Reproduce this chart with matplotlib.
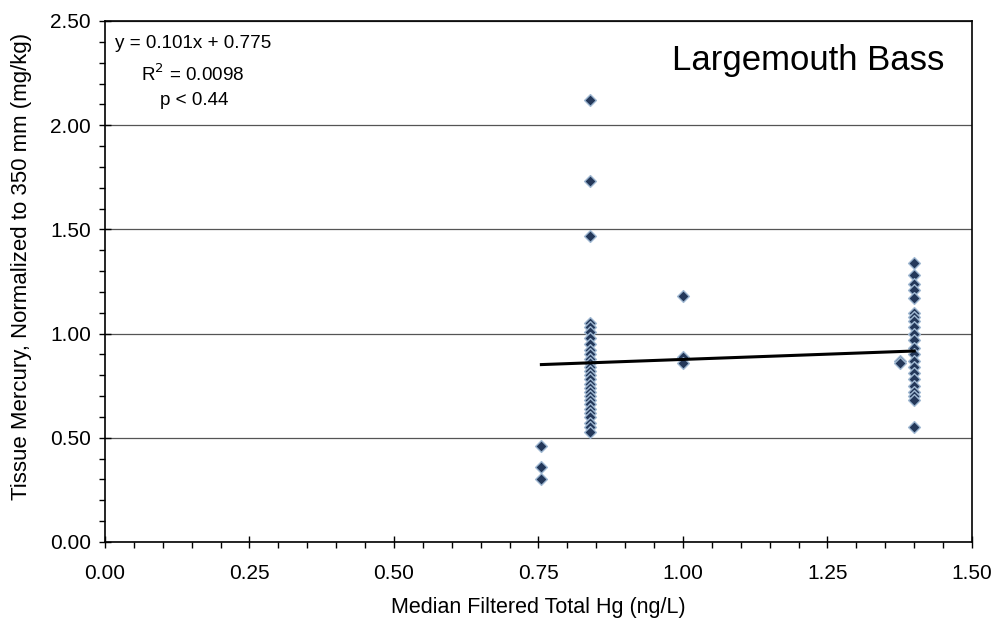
import numpy as np
import matplotlib.pyplot as plt
from matplotlib.ticker import MultipleLocator

plt.rcParams['font.family'] = ['Liberation Sans', 'DejaVu Sans']

# values
x_0755 = [0.755, 0.755, 0.755]
y_0755 = [0.46, 0.36, 0.30]

x_084 = [0.84] * 28
y_084 = [2.12, 1.73, 1.47,
         1.05, 1.03, 1.01, 0.98, 0.95, 0.92, 0.90, 0.88, 0.86, 0.84, 0.82,
         0.80, 0.78, 0.76, 0.74, 0.72, 0.70, 0.68, 0.66, 0.64, 0.62, 0.60,
         0.57, 0.55, 0.53]

x_100 = [1.0, 1.0, 1.0]
y_100 = [1.18, 0.89, 0.86]

x_138 = [1.375, 1.375]
y_138 = [0.87, 0.86]

x_140 = [1.40] * 22
y_140 = [1.34, 1.28, 1.24, 1.21, 1.17, 1.10, 1.08, 1.06, 1.03, 1.00,
         0.97, 0.93, 0.90, 0.87, 0.84, 0.81, 0.78, 0.75, 0.72, 0.70,
         0.68, 0.55]

slope = 0.101
intercept = 0.775
fit_x = [0.755, 1.40]

xs = x_0755 + x_084 + x_100 + x_138 + x_140
ys = y_0755 + y_084 + y_100 + y_138 + y_140

fig = plt.figure(figsize=(9.97, 6.3), dpi=100)
ax = fig.add_axes([0.1053, 0.1397, 0.8696, 0.827])

ax.scatter(xs, ys, marker='D', s=36, color='#24385a', edgecolors='#9fb8d2',
           linewidths=1.0, zorder=3)
fx = np.array(fit_x)
ax.plot(fx, slope * fx + intercept, color='black', lw=2.2, zorder=4)

ax.set_xlim(0, 1.5)
ax.set_ylim(0, 2.5)
ax.xaxis.set_major_locator(MultipleLocator(0.25))
ax.xaxis.set_minor_locator(MultipleLocator(0.05))
ax.yaxis.set_major_locator(MultipleLocator(0.5))
ax.yaxis.set_minor_locator(MultipleLocator(0.1))
ax.xaxis.set_major_formatter(lambda v, p: f'{v:.2f}')
ax.yaxis.set_major_formatter(lambda v, p: f'{v:.2f}')
ax.tick_params(which='major', direction='inout', length=8, width=1,
               labelsize=15)
ax.tick_params(axis='x', which='major', pad=12)
ax.tick_params(axis='y', which='major', pad=6)
ax.tick_params(which='minor', direction='out', length=4, width=1)
ax.grid(axis='y', which='major', color='#555555', lw=0.9)
for s in ax.spines.values():
    s.set_linewidth(1.2)

ax.set_xlabel('Median Filtered Total Hg (ng/L)', fontsize=15.5, labelpad=10)
ax.set_ylabel('Tissue Mercury, Normalized to 350 mm (mg/kg)', fontsize=16)
ax.yaxis.set_label_coords(-0.084, 0.528)

ax.text(0.152, 2.39, f'y = {slope}x + {intercept}', fontsize=13.6,
        ha='center', va='center')
ax.text(0.152, 2.245, 'R$^2$ = 0.0098', fontsize=13.6, ha='center', va='center')
ax.text(0.155, 2.12, 'p < 0.44', fontsize=13.6, ha='center', va='center')
ax.text(1.453, 2.31, 'Largemouth Bass', fontsize=25, ha='right', va='center')

fig.savefig('out.png', dpi=100)
